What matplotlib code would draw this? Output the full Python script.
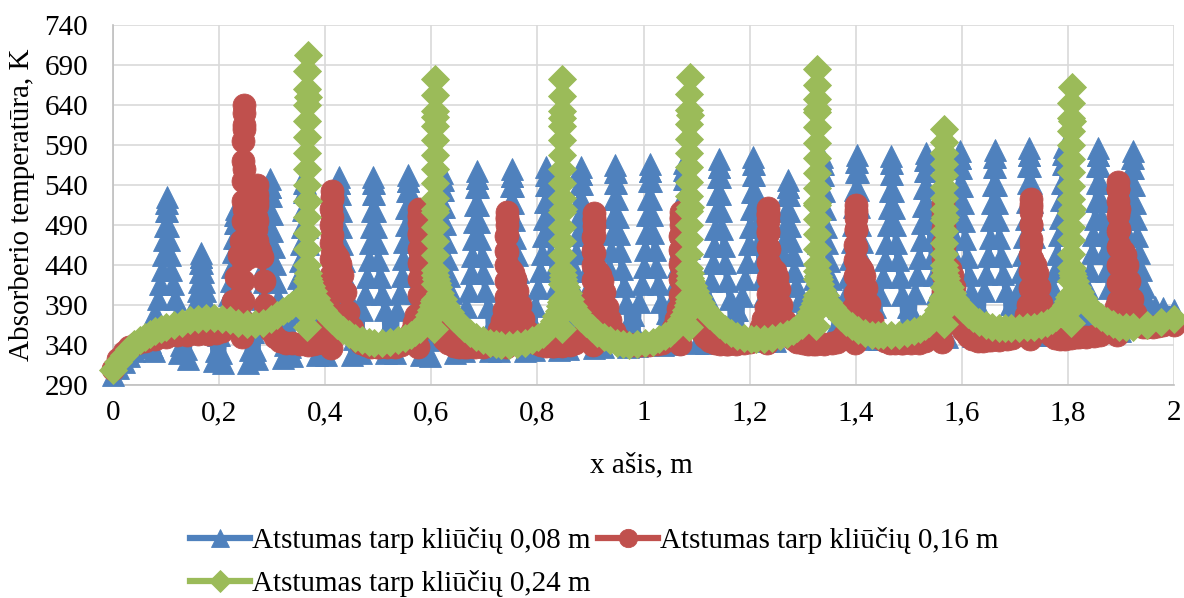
import matplotlib
matplotlib.use("Agg")
import matplotlib.pyplot as plt
from matplotlib.lines import Line2D

plt.rcParams['font.family'] = ['Liberation Serif', 'DejaVu Serif']

# ---------------------------------------------------------------- axes / labels
X_TICKS = [0, 0.2, 0.4, 0.6, 0.8, 1.0, 1.2, 1.4, 1.6, 1.8, 2.0]
X_TICK_LABELS = ['0', '0,2', '0,4', '0,6', '0,8', '1', '1,2', '1,4', '1,6', '1,8', '2']
Y_TICKS = [290, 340, 390, 440, 490, 540, 590, 640, 690, 740]
X_TITLE = 'x ašis, m'
Y_TITLE = 'Absorberio temperatūra, K'
SERIES_NAMES = ['Atstumas tarp kliūčių 0,08 m',
                'Atstumas tarp kliūčių 0,16 m',
                'Atstumas tarp kliūčių 0,24 m']

# ---------------------------------------------------------------- 0,08 m series
# absorber surface upstream of the first rib
BLUE_LEAD_X = [0.0, 0.01, 0.02, 0.03, 0.04, 0.05, 0.06]
BLUE_LEAD_T = [303, 311, 319, 326, 332, 337, 341]
# rib positions and the sampling offsets around every rib
BLUE_RIB_X = [0.101, 0.166, 0.231, 0.296, 0.361, 0.426, 0.491, 0.556, 0.621, 0.686,
              0.752, 0.817, 0.882, 0.947, 1.012, 1.077, 1.142, 1.207, 1.272, 1.337,
              1.402, 1.467, 1.532, 1.597, 1.662, 1.727, 1.792, 1.857, 1.922]
BLUE_OFFSETS = [-0.0315, -0.028, -0.024, -0.0209, -0.0157, -0.0119, -0.009, -0.0066,
                -0.0046, -0.0029, -0.0014, -0.0005, 0.0, 0.0005, 0.0014, 0.0029,
                0.0046, 0.0066, 0.009, 0.0119, 0.0157, 0.0209, 0.024, 0.028, 0.0315]
BLUE_T = [
    [344, 338, 332, 380, 398, 416, 434, 453, 471, 489, 507, 518, 525, 518, 507, 489, 471, 453, 434, 416, 398, 380, 330, 340, 356],
    [358, 335, 322, 358, 370, 382, 394, 407, 419, 431, 443, 450, 455, 450, 443, 431, 419, 407, 394, 382, 370, 358, 320, 332, 352],
    [352, 330, 318, 366, 384, 402, 420, 438, 456, 474, 492, 503, 510, 503, 492, 474, 456, 438, 420, 402, 384, 366, 318, 334, 356],
    [356, 334, 322, 377, 398, 419, 441, 462, 483, 504, 526, 538, 547, 538, 526, 504, 483, 462, 441, 419, 398, 377, 324, 340, 360],
    [360, 338, 326, 381, 402, 424, 445, 466, 488, 509, 531, 543, 552, 543, 531, 509, 488, 466, 445, 424, 402, 381, 328, 344, 364],
    [364, 344, 328, 382, 403, 424, 445, 466, 487, 508, 529, 542, 550, 542, 529, 508, 487, 466, 445, 424, 403, 382, 328, 348, 366],
    [366, 346, 330, 384, 404, 425, 446, 467, 488, 508, 529, 542, 550, 542, 529, 508, 488, 467, 446, 425, 404, 384, 330, 350, 368],
    [368, 348, 330, 384, 405, 426, 448, 469, 490, 511, 532, 545, 553, 545, 532, 511, 490, 469, 448, 426, 405, 384, 328, 348, 368],
    [368, 346, 326, 383, 405, 426, 448, 469, 491, 512, 534, 546, 555, 546, 534, 512, 491, 469, 448, 426, 405, 383, 330, 350, 370],
    [370, 350, 332, 387, 408, 430, 451, 472, 494, 515, 537, 549, 558, 549, 537, 515, 494, 472, 451, 430, 408, 387, 332, 352, 372],
    [372, 352, 333, 388, 410, 431, 453, 474, 496, 517, 539, 551, 560, 551, 539, 517, 496, 474, 453, 431, 410, 388, 333, 353, 374],
    [374, 354, 334, 389, 411, 432, 454, 476, 497, 519, 540, 553, 562, 553, 540, 519, 497, 476, 454, 432, 411, 389, 334, 354, 375],
    [375, 355, 335, 390, 412, 433, 455, 477, 498, 520, 541, 554, 563, 554, 541, 520, 498, 477, 455, 433, 412, 390, 336, 356, 376],
    [376, 356, 337, 392, 414, 435, 457, 479, 500, 522, 543, 556, 565, 556, 543, 522, 500, 479, 457, 435, 414, 392, 338, 358, 378],
    [378, 358, 339, 394, 416, 437, 459, 480, 502, 523, 545, 557, 566, 557, 545, 523, 502, 480, 459, 437, 416, 394, 340, 360, 380],
    [380, 360, 341, 396, 418, 439, 461, 482, 504, 525, 547, 559, 568, 559, 547, 525, 504, 482, 461, 439, 418, 396, 342, 362, 382],
    [382, 362, 343, 398, 420, 442, 464, 485, 507, 529, 550, 563, 572, 563, 550, 529, 507, 485, 464, 442, 420, 398, 344, 364, 384],
    [384, 364, 345, 401, 422, 444, 466, 488, 510, 531, 553, 566, 575, 566, 553, 531, 510, 488, 466, 444, 422, 401, 345, 364, 384],
    [384, 364, 345, 395, 414, 433, 452, 470, 489, 508, 527, 538, 546, 538, 527, 508, 489, 470, 452, 433, 414, 395, 346, 366, 385],
    [385, 366, 346, 401, 423, 445, 467, 488, 510, 532, 553, 566, 575, 566, 553, 532, 510, 488, 467, 445, 423, 401, 347, 367, 386],
    [386, 367, 347, 403, 425, 447, 469, 490, 512, 534, 556, 569, 578, 569, 556, 534, 512, 490, 469, 447, 425, 403, 348, 368, 387],
    [387, 368, 348, 403, 425, 446, 468, 490, 511, 533, 554, 567, 576, 567, 554, 533, 511, 490, 468, 446, 425, 403, 349, 369, 388],
    [388, 369, 349, 405, 427, 449, 471, 492, 514, 536, 558, 571, 580, 571, 558, 536, 514, 492, 471, 449, 427, 405, 350, 370, 389],
    [389, 370, 350, 406, 428, 450, 473, 495, 517, 539, 561, 574, 583, 574, 561, 539, 517, 495, 473, 450, 428, 406, 351, 371, 390],
    [390, 371, 351, 407, 429, 451, 474, 496, 518, 540, 562, 575, 584, 575, 562, 540, 518, 496, 474, 451, 429, 407, 352, 372, 391],
    [391, 372, 352, 408, 431, 453, 475, 497, 519, 542, 564, 577, 586, 577, 564, 542, 519, 497, 475, 453, 431, 408, 353, 373, 392],
    [392, 373, 353, 410, 432, 454, 477, 499, 521, 543, 566, 579, 588, 579, 566, 543, 521, 499, 477, 454, 432, 410, 354, 374, 393],
    [393, 374, 355, 411, 433, 455, 477, 498, 520, 542, 564, 577, 586, 577, 564, 542, 520, 498, 477, 455, 433, 411, 356, 376, 394],
    [394, 376, 358, 412, 434, 455, 476, 497, 518, 540, 561, 574, 582, 574, 561, 540, 518, 497, 476, 455, 434, 412, 396, 392, 390],
]
BLUE_TAIL_X = [1.965, 1.98, 2.0]
BLUE_TAIL_T = [388, 386, 384]

# ---------------------------------------------------------------- 0,16 m series
RED_HEAD_X = [0.0, 0.01, 0.02, 0.03, 0.045, 0.06, 0.08, 0.1, 0.12, 0.14, 0.16, 0.18,
              0.195, 0.205, 0.213, 0.22, 0.226, 0.232, 0.237, 0.241, 0.244,
              0.2450, 0.2451, 0.2452, 0.2453, 0.2454, 0.2455, 0.2456, 0.2457, 0.2458,
              0.2459, 0.2460, 0.2461, 0.2465,
              0.2468, 0.2471, 0.2474, 0.2478,
              0.251, 0.256, 0.261, 0.266,
              0.2700, 0.2702, 0.2704, 0.2706, 0.2708, 0.2710,
              0.2713, 0.2715, 0.2718,
              0.274, 0.278, 0.281, 0.284, 0.287, 0.291, 0.297, 0.305, 0.315, 0.326]
RED_HEAD_T = [310, 322, 331, 337, 342, 345, 348, 350, 352, 353, 354, 354,
              355, 357, 362, 375, 395, 425, 452, 470, 350,
              370, 395, 420, 445, 470, 495, 520, 545, 570,
              595, 615, 630, 640,
              610, 560, 510, 470,
              455, 450, 452, 458,
              470, 485, 500, 515, 528, 540,
              520, 495, 470,
              462, 458, 450, 420, 390, 370, 358, 350, 345, 342]
RED_RIB_X = [0.412, 0.577, 0.742, 0.906, 1.070, 1.235, 1.400, 1.565, 1.730, 1.895]
RED_OFFSETS = [-0.075, -0.06, -0.045, -0.035, -0.027, -0.02, -0.014, -0.009, -0.005, -0.002,
               -0.0009, -0.0008, -0.0007, -0.0006, -0.0005, -0.0004, -0.0003, -0.0002, -0.0001, 0.0,
               0.0003, 0.0006, 0.001, 0.0015,
               0.004, 0.008, 0.012, 0.016, 0.02, 0.025, 0.031, 0.038, 0.046, 0.055, 0.065, 0.075, 0.085]
RED_T = [
    [343, 341, 340, 341, 343, 347, 354, 364, 376, 336,
     360, 383, 405, 427, 448, 468, 490, 510, 525, 533,
     522, 500, 478, 460,
     456, 453, 449, 441, 428, 406, 381, 361, 349, 343, 340, 338, 338],
    [338, 338, 338, 340, 344, 350, 358, 368, 378, 338,
     358, 380, 402, 422, 442, 460, 478, 493, 503, 510,
     500, 480, 458, 440,
     434, 432, 428, 420, 406, 389, 371, 356, 347, 342, 339, 338, 338],
    [338, 337, 338, 340, 344, 350, 359, 370, 384, 337,
     358, 380, 400, 420, 440, 458, 476, 490, 500, 506,
     497, 478, 456, 440,
     436, 434, 430, 422, 408, 390, 372, 357, 348, 343, 340, 339, 339],
    [339, 339, 340, 342, 346, 352, 360, 371, 384, 340,
     360, 381, 401, 421, 440, 458, 475, 489, 499, 505,
     496, 477, 455, 438,
     434, 431, 428, 420, 406, 388, 371, 357, 349, 344, 341, 340, 340],
    [340, 340, 341, 343, 347, 353, 361, 372, 385, 341,
     361, 382, 402, 422, 441, 459, 476, 490, 500, 506,
     497, 478, 456, 440,
     436, 433, 429, 421, 407, 389, 372, 358, 350, 345, 342, 341, 341],
    [341, 341, 342, 344, 348, 354, 362, 373, 386, 342,
     362, 384, 404, 424, 444, 462, 480, 495, 505, 511,
     502, 482, 460, 442,
     437, 436, 433, 425, 410, 390, 370, 356, 348, 344, 342, 341, 341],
    [341, 341, 342, 344, 348, 354, 362, 373, 386, 342,
     362, 384, 405, 426, 446, 465, 484, 499, 509, 515,
     505, 485, 462, 444,
     438, 437, 434, 426, 411, 391, 371, 357, 349, 345, 343, 342, 342],
    [342, 342, 343, 345, 349, 355, 363, 374, 387, 344,
     364, 386, 407, 428, 448, 467, 486, 501, 511, 517,
     507, 487, 464, 446,
     440, 438, 435, 427, 412, 392, 373, 359, 351, 347, 345, 345, 346],
    [346, 346, 347, 349, 352, 358, 366, 377, 390, 348,
     368, 390, 411, 432, 452, 472, 491, 506, 516, 522,
     512, 490, 466, 448,
     444, 440, 430, 412, 392, 375, 362, 353, 349, 348, 348, 349, 350],
    [350, 350, 351, 353, 356, 360, 366, 375, 388, 352,
     372, 395, 418, 440, 462, 483, 503, 520, 535, 544,
     535, 510, 485, 465,
     460, 458, 452, 440, 420, 398, 380, 368, 363, 362, 363, 364, 365],
]
RED_TAIL_X = [2.0]
RED_TAIL_T = [365]

# ---------------------------------------------------------------- 0,24 m series
GREEN_HEAD_X = [0.0, 0.01, 0.02, 0.03, 0.04, 0.05, 0.06, 0.07, 0.08, 0.09, 0.1,
                0.115, 0.13, 0.145, 0.16, 0.175, 0.19, 0.205, 0.22, 0.235]
GREEN_HEAD_T = [309, 319, 328, 335, 341, 346, 350, 354, 357, 360, 362,
                365, 368, 371, 373, 374, 374, 373, 371, 368]
GREEN_RIB_X = [0.367, 0.607, 0.847, 1.087, 1.327, 1.567, 1.807]
GREEN_OFFSETS = [-0.115, -0.1, -0.085, -0.07, -0.057, -0.046, -0.037, -0.029, -0.022,
                 -0.016, -0.011, -0.007, -0.004, -0.002, -0.001,
                 -0.0006, -0.0006, -0.0006, -0.0006, -0.0006, -0.0006, -0.0006, -0.0006,
                 -0.0006, -0.0006, -0.0006, -0.0006, -0.0006, -0.0006, -0.0006, -0.0006,
                 0.0,
                 0.0003, 0.0006, 0.0009,
                 0.0015, 0.003, 0.006, 0.01, 0.015, 0.021, 0.028, 0.036, 0.045, 0.055,
                 0.066, 0.078, 0.09, 0.103, 0.115]
GREEN_T = [
    [366, 366, 368, 372, 377, 382, 386, 390, 394, 397, 400, 402, 404, 405, 362,
     380, 400, 420, 440, 460, 480, 500, 520, 540, 560, 580, 600, 620, 640, 660, 682,
     703,
     650, 520, 430,
     424, 420, 414, 407, 399, 391, 384, 377, 371, 365, 359, 354, 349, 346, 344],
    [343, 343, 344, 346, 349, 352, 356, 360, 365, 371, 377, 384, 390, 395, 360,
     380, 398, 416, 434, 452, 470, 488, 506, 524, 542, 560, 578, 596, 614, 632, 652,
     673,
     625, 510, 428,
     422, 418, 412, 405, 397, 389, 381, 374, 367, 361, 355, 350, 346, 343, 341],
    [340, 340, 341, 343, 346, 350, 354, 359, 364, 370, 376, 383, 389, 394, 360,
     380, 398, 416, 434, 452, 470, 488, 506, 524, 542, 560, 578, 596, 614, 632, 651,
     672,
     624, 510, 428,
     422, 418, 412, 405, 397, 389, 381, 374, 367, 361, 355, 350, 346, 343, 341],
    [340, 341, 342, 344, 347, 351, 355, 360, 365, 371, 377, 384, 390, 395, 362,
     382, 400, 418, 436, 454, 472, 490, 508, 526, 544, 562, 580, 598, 616, 634, 654,
     675,
     628, 512, 430,
     424, 420, 414, 407, 400, 392, 385, 378, 372, 366, 360, 355, 351, 349, 348],
    [348, 348, 349, 351, 354, 357, 361, 365, 370, 375, 381, 387, 393, 398, 364,
     384, 403, 422, 441, 460, 479, 498, 517, 536, 555, 574, 593, 612, 631, 648, 665,
     685,
     635, 515, 432,
     426, 422, 416, 409, 402, 394, 387, 381, 375, 369, 364, 359, 355, 353, 352],
    [352, 352, 353, 355, 357, 360, 364, 368, 373, 378, 384, 390, 396, 400, 366,
     384, 398, 412, 426, 440, 454, 468, 482, 496, 510, 524, 538, 552, 566, 580, 594,
     610,
     580, 500, 434,
     428, 424, 418, 412, 405, 398, 391, 385, 379, 374, 369, 365, 362, 361, 361],
    [361, 361, 362, 363, 365, 368, 371, 375, 380, 385, 390, 395, 400, 404, 368,
     386, 403, 420, 437, 454, 471, 488, 505, 522, 539, 556, 573, 590, 607, 624, 643,
     663,
     620, 510, 436,
     430, 426, 420, 413, 406, 399, 392, 386, 380, 375, 370, 366, 363, 362, 362],
]
GREEN_TAIL_X = [1.95, 1.975, 2.0]
GREEN_TAIL_T = [365, 369, 373]

COLORS = ['#4F81BD', '#C0504D', '#9BBB59']
MARKERS = [('^', 16.0), ('o', 16.5), ('D', 14.0)]


def assemble(head_x, head_t, ribs, offsets, rows, tail_x, tail_t):
    xs, ts = list(head_x), list(head_t)
    for rib, row in zip(ribs, rows):
        assert len(row) == len(offsets)
        xs.extend(rib + o for o in offsets)
        ts.extend(row)
    xs.extend(tail_x)
    ts.extend(tail_t)
    return xs, ts


series = [
    assemble(BLUE_LEAD_X, BLUE_LEAD_T, BLUE_RIB_X, BLUE_OFFSETS, BLUE_T, BLUE_TAIL_X, BLUE_TAIL_T),
    assemble(RED_HEAD_X, RED_HEAD_T, RED_RIB_X, RED_OFFSETS, RED_T, RED_TAIL_X, RED_TAIL_T),
    assemble(GREEN_HEAD_X, GREEN_HEAD_T, GREEN_RIB_X, GREEN_OFFSETS, GREEN_T, GREEN_TAIL_X, GREEN_TAIL_T),
]

W, H = 1184, 598
fig = plt.figure(figsize=(W / 100, H / 100), dpi=100)
ax = fig.add_axes([113 / W, 1 - 385 / H, (1174 - 113) / W, (385 - 25) / H])

handles = []
for (xs, ts), color, (mk, ms), name, z in zip(series, COLORS, MARKERS, SERIES_NAMES, (3, 4, 5)):
    ax.plot(xs, ts, color=color, lw=4.5, marker=mk, ms=ms, mfc=color, mec=color,
            mew=0.6, clip_on=False, zorder=z, solid_joinstyle='round')
    handles.append(Line2D([], [], color=color, lw=4.5, marker=mk, ms=ms * 0.8,
                          mfc=color, mec=color, mew=0.6))

ax.set_xlim(0, 2)
ax.set_ylim(290, 740)
ax.set_xticks(X_TICKS)
ax.set_xticklabels(X_TICK_LABELS)
ax.set_yticks(Y_TICKS)
ax.grid(True, color='#D9D9D9', lw=1.2)
ax.set_axisbelow(True)
for side in ('top', 'right'):
    ax.spines[side].set_visible(False)
for side in ('left', 'bottom'):
    ax.spines[side].set_color('#BFBFBF')
    ax.spines[side].set_linewidth(1.2)
ax.tick_params(axis='both', length=0, labelsize=21, colors='black')
ax.tick_params(axis='y', pad=18)
ax.tick_params(axis='x', pad=11)

fig.text(22 / W, 1 - 205 / H, Y_TITLE, rotation=90, ha='center', va='center', fontsize=21)
fig.text(641 / W, 1 - 465 / H, X_TITLE, ha='center', va='center', fontsize=21)

# legend: first column holds 0,08 m and 0,24 m, second column 0,16 m
fig.legend([handles[0], handles[2], handles[1]],
           [SERIES_NAMES[0], SERIES_NAMES[2], SERIES_NAMES[1]],
           ncol=2, loc='upper left', bbox_to_anchor=(190 / W, 1 - 527 / H),
           frameon=False, fontsize=21, handlelength=2.05, handletextpad=0.08,
           columnspacing=0.25, borderpad=0, borderaxespad=0, labelspacing=0.55,
           numpoints=1)

fig.savefig('out.png', dpi=100)
